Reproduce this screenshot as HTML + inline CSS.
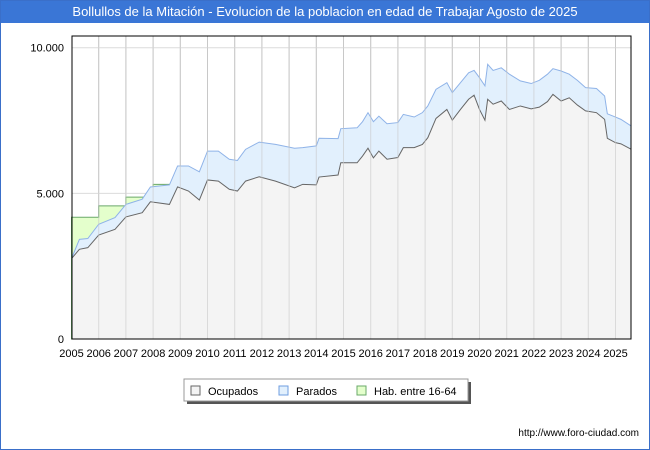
<!DOCTYPE html>
<html><head><meta charset="utf-8">
<style>
body{margin:0;background:#fff;font-family:"Liberation Sans",sans-serif;}
#wrap{position:relative;width:648px;height:448px;border:1px solid #3a6fc9;overflow:hidden;}
#title{position:absolute;left:0;top:0;width:648px;height:22px;background:#3a76d6;color:#fff;font-size:13px;line-height:22px;text-align:center;}
#url{position:absolute;right:10px;top:427px;font-size:10px;color:#000;}
</style></head><body>
<div id="wrap">
<div id="title">Bollullos de la Mitación - Evolucion de la poblacion en edad de Trabajar Agosto de 2025</div>
<svg id="chart" width="648" height="420" style="position:absolute;left:0;top:0"></svg>
<div id="url">http://www.foro-ciudad.com</div>
</div>
<script>
const years=[2005,2006,2007,2008,2009,2010,2011,2012,2013,2014,2015,2016,2017,2018,2019,2020,2021,2022,2023,2024,2025];
const yTicks=[0,5000,10000];
const yTickLabels=["0","5.000","10.000"];
const habYears=[2005,2006,2007,2008,2009];
const habValues=[4180,4570,4870,5310,5310];
const times=[2005.0,2005.29,2005.6,2006.0,2006.6,2007.0,2007.6,2007.9,2008.6,2008.9,2009.3,2009.7,2010.0,2010.4,2010.8,2011.1,2011.4,2011.9,2012.5,2013.2,2013.5,2014.0,2014.1,2014.8,2014.9,2015.5,2015.7,2015.9,2016.1,2016.3,2016.6,2017.0,2017.2,2017.6,2017.9,2018.1,2018.4,2018.8,2019.0,2019.3,2019.6,2019.8,2020.0,2020.2,2020.3,2020.5,2020.8,2021.1,2021.5,2021.9,2022.2,2022.5,2022.7,2023.0,2023.3,2023.6,2023.9,2024.3,2024.6,2024.7,2025.0,2025.2,2025.58];
const ocupados=[2757,3080,3135,3570,3765,4190,4335,4710,4620,5220,5080,4770,5460,5420,5140,5080,5420,5570,5420,5190,5310,5290,5560,5630,6050,6050,6280,6550,6220,6450,6170,6230,6570,6570,6680,6910,7570,7880,7510,7880,8230,8370,7880,7510,8230,8060,8170,7880,8000,7900,7960,8150,8400,8170,8280,8030,7830,7770,7540,6890,6740,6700,6510];
const parados=[0,340,315,370,405,430,465,510,670,720,860,970,990,1030,1030,1050,1090,1190,1260,1360,1260,1340,1330,1250,1170,1200,1180,1220,1240,1200,1220,1200,1140,1050,1090,1090,1000,920,950,920,910,850,1090,1180,1200,1160,1140,1210,860,870,920,940,880,1030,810,850,800,830,800,840,880,840,800];
const NS="http://www.w3.org/2000/svg";
const svg=document.getElementById('chart');
const L=71,R=630,T=35,B=338,Y0=2005,PX=27.2;
const xs=t=>70.5+(t-Y0)*PX;
const ys=v=>B-v*(B-46.7)/10000;
function mk(tag,attrs){const el=document.createElementNS(NS,tag);for(const k in attrs)el.setAttribute(k,attrs[k]);svg.appendChild(el);return el;}
let e=mk('rect',{x:L,y:T,width:R-L,height:B-T,fill:'#fff'});


years.slice(1).forEach(y=>{const g=mk('line',{x1:xs(y),x2:xs(y),y1:T,y2:B,stroke:'#c8c8c8'});

});
yTicks.forEach(v=>{const g=mk('line',{x1:L,x2:R,y1:ys(v),y2:ys(v),stroke:'#dcdcdc'});

});
let hp=`M${xs(2005)},${B}`;
habYears.forEach((y,i)=>{const x2=i<habYears.length-1?xs(habYears[i+1]):xs(y+0.3);hp+=` L${xs(y)},${ys(habValues[i])} L${x2},${ys(habValues[i])}`;});
hp+=` L${xs(2009.3)},${B} Z`;
e=mk('path',{d:hp,fill:'#e4ffcc',stroke:'#6aa86a','stroke-width':1});


const tot=ocupados.map((o,i)=>o+parados[i]);
let topPath='',ocl='';
times.forEach((t,i)=>{topPath+=(i?' L':'M')+xs(t)+','+ys(tot[i]);ocl+=(i?' L':'M')+xs(t)+','+ys(ocupados[i]);});
const xe=xs(times[times.length-1]),xb=xs(times[0]);
e=mk('path',{d:topPath+` L${xe},${B} L${xb},${B} Z`,fill:'#e2f0fd'});


e=mk('path',{d:topPath,fill:'none',stroke:'#8fb3e8','stroke-width':1});


e=mk('path',{d:ocl+` L${xe},${B} L${xb},${B} Z`,fill:'#f4f4f4'});


e=mk('path',{d:ocl,fill:'none',stroke:'#666','stroke-width':1});


years.slice(1).forEach(y=>{const g=mk('line',{x1:xs(y),x2:xs(y),y1:T,y2:B,stroke:'#c8c8c8','stroke-opacity':0.6});

});
e=mk('rect',{x:L,y:T,width:R-L,height:B-T,fill:'none',stroke:'#000'});


yTicks.forEach((v,i)=>{const t=mk('text',{x:63,y:ys(v)+4,'text-anchor':'end','font-size':11,fill:'#000'});t.textContent=yTickLabels[i];

});
years.forEach(y=>{const t=mk('text',{x:xs(y),y:356,'text-anchor':'middle','font-size':11,fill:'#000'});t.textContent=y;

});
e=mk('rect',{x:186,y:381,width:284,height:22,fill:'#555'});


e=mk('rect',{x:183,y:378,width:284,height:22,fill:'#fff',stroke:'#999'});


const leg=[['Ocupados','#f4f4f4','#666',190],['Parados','#e2f0fd','#6f9ee0',278],['Hab. entre 16-64','#e4ffcc','#6aa86a',356]];
leg.forEach(l=>{const b=mk('rect',{x:l[3],y:385,width:9,height:9,fill:l[1],stroke:l[2]});


const t=mk('text',{x:l[3]+17,y:394,'font-size':11,fill:'#000'});t.textContent=l[0];

});
</script>
</body></html>
